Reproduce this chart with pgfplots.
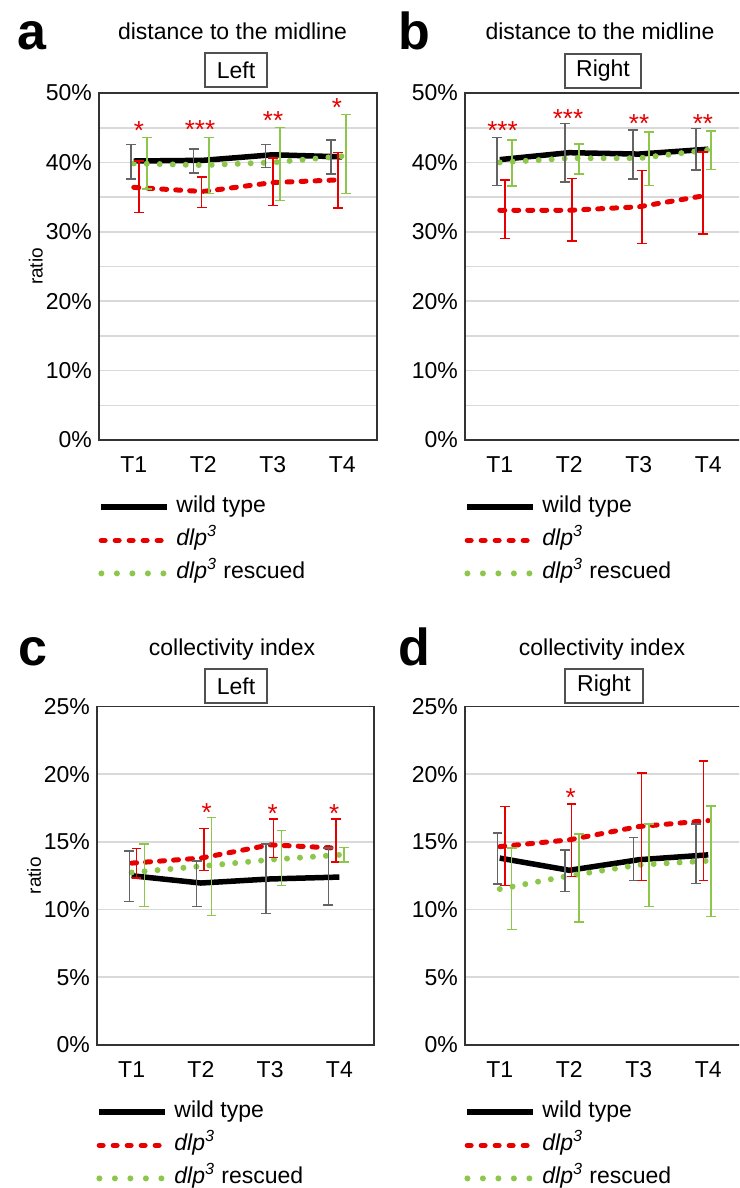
\documentclass[border=0pt]{standalone}
\usepackage{fontspec}
\setmainfont{Liberation Sans}
\usepackage{pgfplots}
\pgfplotsset{compat=1.18}

\definecolor{dlpred}{RGB}{230,0,0}
\definecolor{rescgreen}{RGB}{140,198,74}
\definecolor{wtgray}{RGB}{100,100,100}
\definecolor{gridgray}{RGB}{217,217,217}
\definecolor{boxgray}{RGB}{80,80,80}

\pgfplotsset{
  panel/.style={
    scale only axis,
    xmin=0.5, xmax=4.5, xtick={1,2,3,4}, xticklabels={T1,T2,T3,T4},
    ymin=0,
    axis line style={draw=black!80, line width=0.8pt},
    major tick length=0pt, minor tick length=0pt,
    ymajorgrids, grid style={draw=gridgray, line width=0.8pt},
    minor grid style={draw=gridgray, line width=0.8pt},
    tick label style={font=\fontsize{11.5}{13}\selectfont},
    xticklabel style={yshift=-4.7pt},
    /pgf/number format/assume math mode=true,
    yticklabel={\pgfmathprintnumber{\tick}\%},
    ylabel style={font=\fontsize{9.5}{11}\selectfont, at={(axis description cs:-0.227,0.5)}, anchor=center},
    legend cell align=left,
    legend style={draw=none, fill=none, at={(axis description cs:0,0)}, anchor=north west,
      xshift=-0.5pt, yshift=-28pt, row sep=5.5pt, inner sep=0pt,
      font=\fontsize{11.5}{13}\selectfont,
      nodes={inner sep=0pt, text height=8pt, text depth=3pt},
      /tikz/every odd column/.style={column sep=3pt}},
    legend image code/.code={\draw[#1] (0pt,0pt) -- (33pt,0pt);},
  },
  wt/.style={black, line width=2.75pt, forget plot},
  dlp/.style={dlpred, line width=2.5pt, line cap=round, dash pattern=on 2.5pt off 4.5pt, forget plot},
  resc/.style={rescgreen, line width=3pt, line cap=round, dash pattern=on 0pt off 6.5pt, forget plot},
  % error bars: each bar is a vertical segment (low, high) with caps, bars separated by inf
  ebar/.style={#1, line width=0.75pt, mark=-, mark size=2.4pt,
    mark options={solid, line width=0.75pt}, unbounded coords=jump, forget plot},
}
\tikzset{
  sig/.style={text=dlpred, font=\fontsize{13}{13}\selectfont, anchor=base, yshift=-6pt, inner sep=0pt},
  sidebox/.style={draw=boxgray, line width=0.75pt, minimum height=17pt, inner sep=0pt, font=\fontsize{11.5}{13}\selectfont},
  ttl/.style={anchor=base, inner sep=0pt, font=\fontsize{11.5}{13}\selectfont},
  letter/.style={anchor=base west, inner sep=0pt, font=\fontsize{26}{28}\selectfont\bfseries},
}
\newcommand{\legendentries}{%
  \addlegendimage{black, line width=3pt}
  \addlegendentry{wild type}
  \addlegendimage{dlpred, line width=2.75pt, line cap=round, dash pattern=on 1.75pt off 5.25pt}
  \addlegendentry{\textit{dlp\textsuperscript{3}}}
  \addlegendimage{rescgreen, line width=3pt, line cap=round, dash pattern=on 0pt off 7.75pt}
  \addlegendentry{\textit{dlp\textsuperscript{3}} rescued}
}

\begin{document}
\begin{tikzpicture}
\path[use as bounding box] (0pt,0pt) rectangle (369.5pt,-594pt);
\clip (0pt,0pt) rectangle (369.5pt,-594pt);

% a: distance to the midline, left
\begin{axis}[panel, at={(49.5pt,-220pt)}, anchor=south west, width=139pt, height=173.5pt,
  ymax=50, ytick={0,10,...,50}, minor ytick={5,15,...,45}, yminorgrids, ylabel={ratio}]
  \addplot[wt] coordinates {(1,40.2) (2,40.3) (3,41.1) (4,40.8)};
  \addplot[dlp] coordinates {(1,36.4) (2,35.8) (3,37.1) (4,37.5)};
  \addplot[resc] coordinates {(1,39.85) (2,39.6) (3,40.0) (4,40.9)};
  \addplot[ebar=wtgray] coordinates {(0.960,37.6) (0.960,42.6) (0.960,inf) (1.863,38.5) (1.863,41.9) (1.863,inf)
    (2.899,39.3) (2.899,42.6) (2.899,inf) (3.838,38.3) (3.838,43.2)};
  \addplot[ebar=dlpred] coordinates {(1.076,32.8) (1.076,40.2) (1.076,inf) (1.978,33.5) (1.978,37.9) (1.978,inf)
    (3.004,33.8) (3.004,40.6) (3.004,inf) (3.939,33.4) (3.939,41.4)};
  \addplot[ebar=rescgreen] coordinates {(1.191,36.2) (1.191,43.6) (1.191,inf) (2.083,35.5) (2.083,43.6) (2.083,inf)
    (3.104,34.5) (3.104,45.0) (3.104,inf) (4.054,35.5) (4.054,46.9)};
  \node[sig] at (axis cs:1.076,45.1) {*};
  \node[sig] at (axis cs:1.953,45.2) {***};
  \node[sig] at (axis cs:3.004,46.4) {**};
  \node[sig] at (axis cs:3.924,48.4) {*};
  \legendentries
\end{axis}

% b: distance to the midline, right
\begin{axis}[panel, at={(232.5pt,-220pt)}, anchor=south west, width=139pt, height=173.5pt,
  ymax=50, ytick={0,10,...,50}, minor ytick={5,15,...,45}, yminorgrids]
  \addplot[wt] coordinates {(1,40.4) (2,41.4) (3,41.2) (4,41.9)};
  \addplot[dlp] coordinates {(1,33.1) (2,33.1) (3,33.6) (4,35.3)};
  \addplot[resc] coordinates {(1,40.0) (2,40.6) (3,40.6) (4,41.8)};
  \addplot[ebar=wtgray] coordinates {(0.960,36.7) (0.960,43.6) (0.960,inf) (1.939,37.2) (1.939,45.6) (1.939,inf)
    (2.917,37.6) (2.917,44.7) (2.917,inf) (3.824,38.9) (3.824,44.9)};
  \addplot[ebar=dlpred] coordinates {(1.076,29.0) (1.076,37.5) (1.076,inf) (2.040,28.7) (2.040,37.7) (2.040,inf)
    (3.047,28.3) (3.047,38.8) (3.047,inf) (3.924,29.7) (3.924,41.5)};
  \addplot[ebar=rescgreen] coordinates {(1.176,36.6) (1.176,43.2) (1.176,inf) (2.140,38.35) (2.140,42.65) (2.140,inf)
    (3.147,36.7) (3.147,44.4) (3.147,inf) (4.040,39.0) (4.040,44.5)};
  \node[sig] at (axis cs:1.039,45.0) {***};
  \node[sig] at (axis cs:1.982,46.8) {***};
  \node[sig] at (axis cs:3.004,46.0) {**};
  \node[sig] at (axis cs:3.924,46.1) {**};
  \legendentries
\end{axis}

% c: collectivity index, left
\begin{axis}[panel, at={(48.5pt,-522.5pt)}, anchor=south west, width=138.5pt, height=169.3pt,
  ymax=25, ytick={0,5,...,25}, ylabel={ratio}]
  \addplot[wt] coordinates {(1,12.5) (2,11.96) (3,12.26) (4,12.4)};
  \addplot[dlp] coordinates {(1,13.43) (2,13.8) (3,14.78) (4,14.53)};
  \addplot[resc] coordinates {(1,12.74) (2,13.2) (3,13.68) (4,14.04)};
  \addplot[ebar=wtgray] coordinates {(0.966,10.6) (0.966,14.34) (0.966,inf) (1.940,10.24) (1.940,13.6) (1.940,inf)
    (2.940,9.71) (2.940,14.83) (2.940,inf) (3.840,10.34) (3.840,14.54)};
  \addplot[ebar=dlpred] coordinates {(1.073,12.33) (1.073,14.5) (1.073,inf) (2.045,12.87) (2.045,16.0) (2.045,inf)
    (3.046,13.85) (3.046,16.67) (3.046,inf) (3.951,13.5) (3.951,16.67)};
  \addplot[ebar=rescgreen] coordinates {(1.183,10.24) (1.183,14.83) (1.183,inf) (2.155,9.58) (2.155,16.8) (2.155,inf)
    (3.167,11.76) (3.167,15.83) (3.167,inf) (4.067,13.5) (4.067,14.6)};
  \node[sig] at (axis cs:2.084,17.4) {*};
  \node[sig] at (axis cs:3.036,17.3) {*};
  \node[sig] at (axis cs:3.926,17.3) {*};
  \legendentries
\end{axis}

% d: collectivity index, right
\begin{axis}[panel, at={(232.5pt,-522.5pt)}, anchor=south west, width=139pt, height=169.3pt,
  ymax=25, ytick={0,5,...,25}]
  \addplot[wt] coordinates {(1,13.8) (2,12.9) (3,13.68) (4,14.04)};
  \addplot[dlp] coordinates {(1,14.65) (2,15.15) (3,16.13) (4,16.57)};
  \addplot[resc] coordinates {(1,11.52) (2,12.5) (3,13.3) (4,13.6)};
  \addplot[ebar=wtgray] coordinates {(0.965,11.89) (0.965,15.64) (0.965,inf) (1.939,11.35) (1.939,14.41) (1.939,inf)
    (2.922,12.15) (2.922,15.32) (2.922,inf) (3.824,11.91) (3.824,16.32)};
  \addplot[ebar=dlpred] coordinates {(1.076,11.76) (1.076,17.6) (1.076,inf) (2.035,12.45) (2.035,17.8) (2.035,inf)
    (3.043,12.13) (3.043,20.1) (3.043,inf) (3.929,12.13) (3.929,20.96)};
  \addplot[ebar=rescgreen] coordinates {(1.172,8.53) (1.172,14.53) (1.172,inf) (2.140,9.1) (2.140,15.57) (2.140,inf)
    (3.147,10.24) (3.147,16.32) (3.147,inf) (4.036,9.5) (4.036,17.65)};
  \node[sig] at (axis cs:2.021,18.5) {*};
  \legendentries
\end{axis}

% panel letters, titles and side boxes
\node[letter] at (8.5pt,-25pt) {a};
\node[letter] at (199pt,-25pt) {b};
\node[letter] at (9pt,-332.5pt) {c};
\node[letter] at (199pt,-332.5pt) {d};
\node[ttl] at (116.25pt,-19.75pt) {distance to the midline};
\node[ttl] at (300pt,-19.75pt) {distance to the midline};
\node[ttl] at (116pt,-327.5pt) {collectivity index};
\node[ttl] at (301pt,-327.5pt) {collectivity index};
\node[sidebox, minimum width=31pt] at (118pt,-35pt) {Left};
\node[sidebox, minimum width=38pt] at (301.5pt,-35.5pt) {Right};
\node[sidebox, minimum width=31pt] at (118pt,-343pt) {Left};
\node[sidebox, minimum width=39pt] at (302pt,-343pt) {Right};
\end{tikzpicture}
\end{document}
